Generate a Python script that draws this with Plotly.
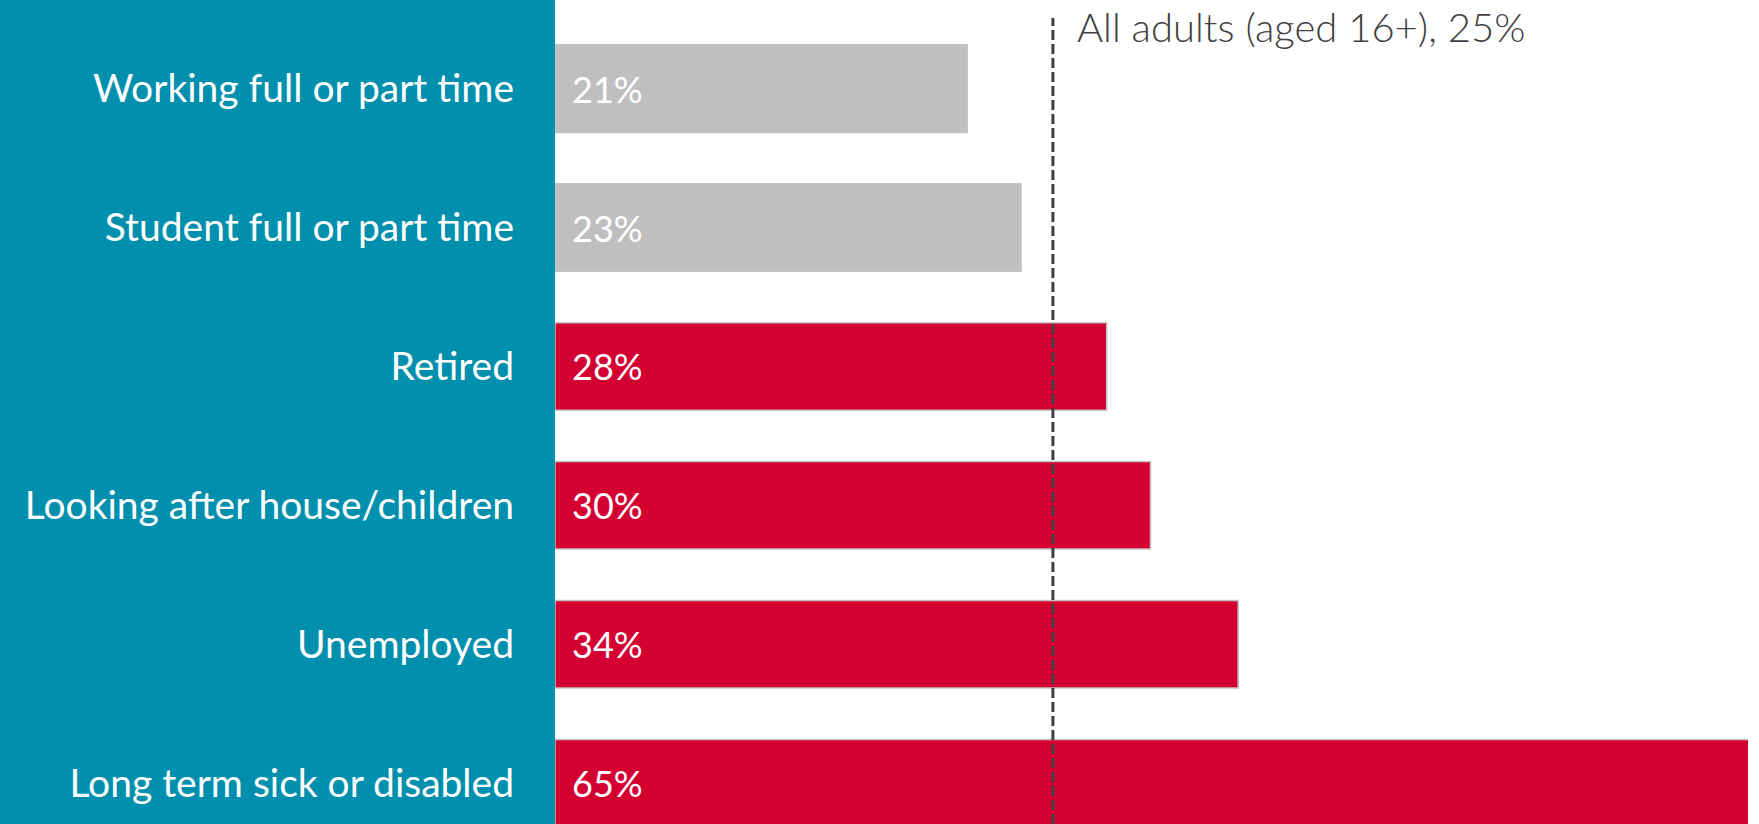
import plotly.graph_objects as go

categories = ["Working full or part time", "Student full or part time", "Retired",
              "Looking after house/children", "Unemployed", "Long term sick or disabled"]
values = [20.7, 23.4, 27.7, 29.9, 34.3, 65]
value_labels = ["21%", "23%", "28%", "30%", "34%", "65%"]
bar_groups = ["below", "below", "above", "above", "above", "above"]
all_adults_value = 25
all_adults_label = "All adults (aged 16+), 25%"

W, H = 1759, 824
L, R = 555, 11
plot_w = W - L - R

TEAL = "#008FAD"
RED = "#D50032"
GREY = "#BFBFBF"
colors = [GREY if g == "below" else RED for g in bar_groups]

fig = go.Figure()
fig.add_trace(go.Bar(
    y=categories, x=values, orientation="h",
    marker=dict(color=colors, line=dict(color="#C4C4C4", width=1.5)),
    width=0.63, hoverinfo="skip", cliponaxis=True,
))

for c, t in zip(categories, value_labels):
    fig.add_annotation(x=0, y=c, text=t, xanchor="left", yanchor="middle",
                       xshift=15, showarrow=False,
                       font=dict(family="Lato", size=36, weight=400, color="white"))

# teal label panel
fig.add_shape(type="rect", xref="paper", yref="paper",
              x0=-L / plot_w, x1=0, y0=0, y1=1,
              fillcolor=TEAL, line=dict(width=0), layer="below")

# reference line
fig.add_shape(type="line", xref="x", yref="paper",
              x0=all_adults_value, x1=all_adults_value, y0=0, y1=1 - 18 / H,
              line=dict(color="#404040", width=3, dash="10px,4px"), layer="above")
fig.add_annotation(x=all_adults_value, y=1 - 27 / H, xref="x", yref="paper",
                   text=all_adults_label, xanchor="left", yanchor="middle",
                   xshift=22, showarrow=False,
                   font=dict(family="Lato", size=40, weight=300, color="#404040"))

fig.update_layout(
    width=W, height=H,
    margin=dict(l=L, r=R, t=0, b=0, pad=0),
    paper_bgcolor="white", plot_bgcolor="white",
    showlegend=False,
    xaxis=dict(range=[0, 59.9], visible=False, fixedrange=True),
    yaxis=dict(categoryorder="array", categoryarray=categories,
               range=[5.294, -0.638], autorange=False,
               showgrid=False, zeroline=False, showline=False,
               ticks="", ticklabelstandoff=40,
               tickfont=dict(family="Lato", size=39, weight=400, color="white")),
)

fig.write_html("out.html")
